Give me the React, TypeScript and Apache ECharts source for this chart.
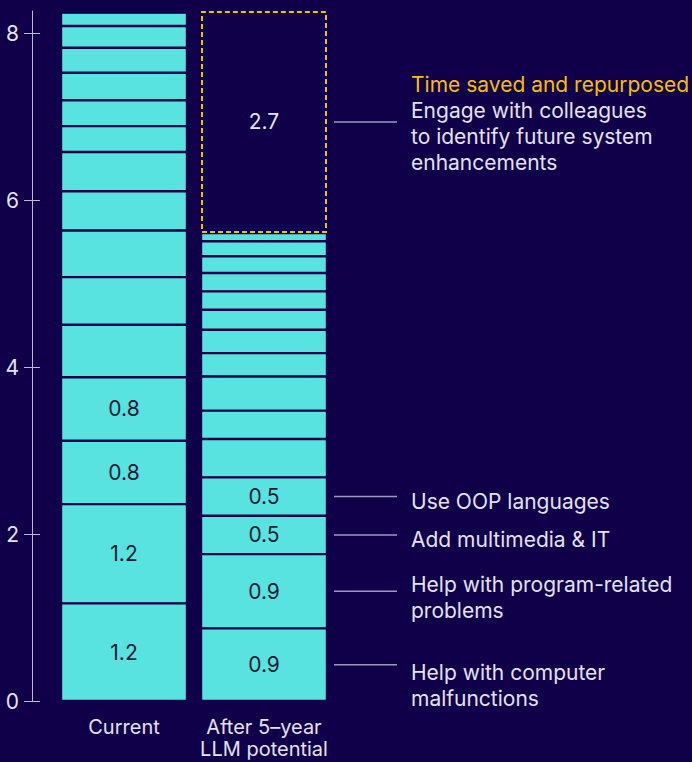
import React, { useEffect, useRef } from "react";
import * as echarts from "echarts";

// ---- data ----
const categories = ["Current", "After 5–year\nLLM potential"];
// stacked segments, bottom to top
const currentSegments = [1.17, 1.19, 0.76, 0.76, 0.63, 0.57, 0.56, 0.47, 0.47, 0.31, 0.31, 0.33, 0.3, 0.26, 0.16];
const afterSegments = [0.87, 0.89, 0.46, 0.46, 0.46, 0.34, 0.41, 0.28, 0.28, 0.24, 0.22, 0.22, 0.2, 0.18, 0.1];
const labeledSegmentCount = 4;
const timeSaved = 2.66;
const timeSavedTitle = "Time saved and repurposed";
const timeSavedLines = ["Engage with colleagues", "to identify future system", "enhancements"];
const afterAnnotations = [
  "Help with computer\nmalfunctions",
  "Help with program-related\nproblems",
  "Add multimedia & IT",
  "Use OOP languages",
];
const yTicks = [0, 2, 4, 6, 8];

// ---- style / layout ----
const BG = "#10004A";
const CYAN = "#58E3E0";
const GOLD = "#F5BF00";
const LIGHT = "#E4E2F0";
const AXIS = "#BDBACF";
const FONT = "Inter, 'Noto Sans', sans-serif";
const FS = 21;
const BAR_WIDTH = 126;
const LABEL_NUDGE = [21, 6, 5, 5];

const fmt = (v: number) => (Math.round(v * 10) / 10).toFixed(1);

export default function App() {
  const ref = useRef<HTMLDivElement>(null);
  useEffect(() => {
    document.body.style.margin = "0";
    document.body.style.background = BG;
    const el = ref.current!;
    const chart = echarts.init(el, null, { renderer: "svg" });
    const total = currentSegments.reduce((a, b) => a + b, 0);
    const afterSum = afterSegments.reduce((a, b) => a + b, 0);
    const yMax = Math.max(total, afterSum + timeSaved);

    const segSeries = currentSegments.map((c, i) => ({
      type: "bar",
      stack: "s",
      barWidth: BAR_WIDTH,
      data: [c, afterSegments[i]],
      itemStyle: { color: CYAN, borderColor: BG, borderWidth: 1.2 },
      label: {
        show: i < labeledSegmentCount,
        position: "inside",
        color: "#1A1A33",
        fontFamily: FONT,
        fontSize: FS,
        formatter: (p: any) => fmt(p.value),
      },
      emphasis: { disabled: true },
    }));

    const option: any = {
      animation: false,
      backgroundColor: BG,
      grid: { left: 54, width: 280, top: 11, bottom: 61, containLabel: false, outerBoundsMode: "none" },
      xAxis: {
        type: "category",
        data: categories,
        axisLine: { show: false },
        axisTick: { show: false },
        axisLabel: { interval: 0, color: LIGHT, fontFamily: FONT, fontSize: 20, lineHeight: 22, margin: 15 },
      },
      yAxis: [
        {
          type: "value",
          min: 0,
          max: yMax,
          offset: 22,
          splitLine: { show: false },
          axisLine: { show: true, lineStyle: { color: AXIS, width: 1 } },
          axisTick: { show: true, length: 8, lineStyle: { color: AXIS }, customValues: yTicks },
          axisLabel: { color: LIGHT, fontFamily: FONT, fontSize: FS, margin: 13, customValues: yTicks },
        },
        {
          type: "value",
          min: 0,
          max: yMax,
          offset: 22,
          position: "left",
          splitLine: { show: false },
          axisLine: { show: false },
          axisTick: { show: true, inside: true, length: 8, lineStyle: { color: AXIS }, customValues: yTicks },
          axisLabel: { show: false },
        },
      ],
      series: [
        ...segSeries,
        {
          type: "bar",
          stack: "s",
          barWidth: BAR_WIDTH,
          data: ["-", timeSaved],
          itemStyle: { color: "rgba(0,0,0,0)", borderColor: GOLD, borderWidth: 2, borderType: [5, 3] },
          label: {
            show: true,
            position: "inside",
            color: LIGHT,
            fontFamily: FONT,
            fontSize: FS,
            formatter: (p: any) => fmt(p.value),
          },
          emphasis: { disabled: true },
        },
      ],
    };
    chart.setOption(option);

    const toPx = (x: number, y: number) => chart.convertToPixel({ gridIndex: 0 } as any, [x, y]) as number[];
    const barRight = toPx(1, 0)[0] + BAR_WIDTH / 2;
    const graphics: any[] = [];
    let cum = 0;
    afterAnnotations.forEach((txt, i) => {
      const mid = cum + afterSegments[i] / 2;
      cum += afterSegments[i];
      const y = toPx(1, mid)[1];
      graphics.push({
        type: "line",
        shape: { x1: barRight + 7, y1: y, x2: barRight + 70, y2: y },
        style: { stroke: "#9C99B8", lineWidth: 1.5 },
      });
      graphics.push({
        type: "text",
        x: barRight + 84,
        y: y + LABEL_NUDGE[i],
        style: {
          text: txt,
          fill: LIGHT,
          fontFamily: FONT,
          fontSize: FS,
          lineHeight: 26,
          verticalAlign: "middle",
        },
      });
    });
    const ym = toPx(1, afterSum + timeSaved / 2)[1];
    graphics.push({
      type: "line",
      shape: { x1: barRight + 7, y1: ym, x2: barRight + 70, y2: ym },
      style: { stroke: "#9C99B8", lineWidth: 1.5 },
    });
    graphics.push({
      type: "text",
      x: barRight + 84,
      y: ym + 2,
      style: {
        text: [`{t|${timeSavedTitle}}`, ...timeSavedLines.map((l) => `{b|${l}}`)].join("\n"),
        verticalAlign: "middle",
        fontFamily: FONT,
        fontSize: FS,
        lineHeight: 26,
        rich: {
          t: { fill: GOLD, fontFamily: FONT, fontSize: FS, lineHeight: 26 },
          b: { fill: LIGHT, fontFamily: FONT, fontSize: FS, lineHeight: 26 },
        },
      },
    });
    chart.setOption({ graphic: graphics });

    return () => chart.dispose();
  }, []);
  return <div ref={ref} style={{ width: 692, height: 762, overflow: "hidden" }} />;
}
